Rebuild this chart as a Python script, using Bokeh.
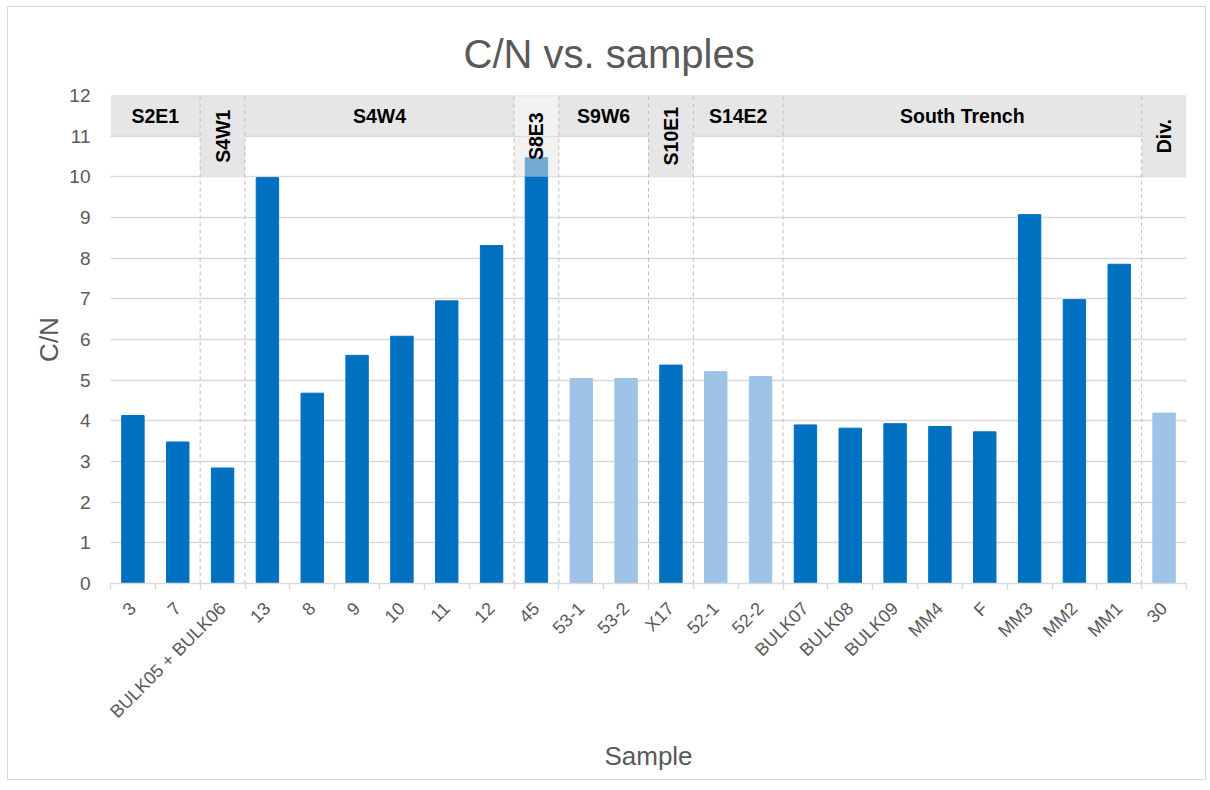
import numpy as np
from bokeh.plotting import figure
from bokeh.models import (Range1d, LinearAxis, FixedTicker, ColumnDataSource, Title)
from bokeh.core.properties import value
from bokeh.embed import file_html
from bokeh.resources import INLINE

# ---------------- data ----------------
samples = ["3", "7", "BULK05 + BULK06", "13", "8", "9", "10", "11", "12", "45",
           "53-1", "53-2", "X17", "52-1", "52-2", "BULK07", "BULK08", "BULK09",
           "MM4", "F", "MM3", "MM2", "MM1", "30"]
cn_values = [4.13, 3.48, 2.84, 9.98, 4.68, 5.61, 6.08, 6.95, 8.31, 10.47,
             5.04, 5.04, 5.37, 5.21, 5.09, 3.90, 3.82, 3.93, 3.86, 3.73,
             9.07, 6.98, 7.85, 4.19]
light_samples = ["53-1", "53-2", "52-1", "52-2", "30"]
group_names = ["S2E1", "S4W1", "S4W4", "S8E3", "S9W6", "S10E1", "S14E2", "South Trench", "Div."]
group_sizes = [2, 1, 6, 1, 2, 1, 2, 8, 1]
y_ticks = list(range(0, 13))

DARK = "#0070c0"
LIGHT = "#9dc3e6"
TXT = "#595959"
GRID = "#d9d9d9"
BAND = "#e6e6e6"
FONT = "Liberation Sans"

n = len(samples)
xpos = [i + 0.5 for i in range(n)]
colors = [LIGHT if s in light_samples else DARK for s in samples]

p = figure(width=1199, height=774, x_range=Range1d(0, n), y_range=Range1d(0, 12),
           output_backend="svg", toolbar_location=None, x_axis_location=None,
           min_border_left=102, min_border_right=21, min_border_top=88, min_border_bottom=198,
           styles={"border": "1px solid #d9d9d9", "margin-left": "7px", "margin-top": "6px"})
p.outline_line_color = None
p.background_fill_color = "white"
p.border_fill_color = "white"

# title
p.title = Title(text="C/N vs. samples", align="left", offset=353, standoff=40,
                text_font=FONT, text_font_size="40px", text_font_style="normal",
                text_color=TXT)

# grid
p.xgrid.visible = False
p.ygrid.ticker = FixedTicker(ticks=y_ticks)
p.ygrid.grid_line_color = GRID
p.ygrid.grid_line_width = 1.5

# y axis
p.yaxis.ticker = FixedTicker(ticks=y_ticks)
p.yaxis.axis_line_color = None
p.yaxis.major_tick_line_color = None
p.yaxis.major_tick_out = 0
p.yaxis.major_tick_in = 0
p.yaxis.minor_tick_line_color = None
p.yaxis.major_label_text_font = FONT
p.yaxis.major_label_text_font_size = "19px"
p.yaxis.major_label_text_color = TXT
p.yaxis.major_label_standoff = 20
p.yaxis.axis_label = "C/N"
p.yaxis.axis_label_text_font = FONT
p.yaxis.axis_label_text_font_size = "26px"
p.yaxis.axis_label_text_font_style = "normal"
p.yaxis.axis_label_text_color = TXT
p.yaxis.axis_label_standoff = 2

# x axis: labels at category centres, ticks (minor) at category boundaries
xaxis = LinearAxis(ticker=FixedTicker(ticks=xpos, minor_ticks=list(range(n + 1))),
                   major_label_overrides={x: s for x, s in zip(xpos, samples)},
                   axis_line_color=GRID, axis_line_width=1.5,
                   major_tick_line_color=None, major_tick_out=6, major_tick_in=0,
                   minor_tick_line_color=GRID, minor_tick_line_width=1.5,
                   minor_tick_out=6, minor_tick_in=0,
                   major_label_orientation=np.pi / 4,
                   major_label_text_font=FONT, major_label_text_font_size="18px",
                   major_label_text_color=TXT, major_label_standoff=16,
                   axis_label="Sample", axis_label_text_font=FONT,
                   axis_label_text_font_size="26px", axis_label_text_font_style="normal",
                   axis_label_text_color=TXT, axis_label_standoff=9)
p.add_layout(xaxis, "below")

# header bands
bounds = np.concatenate([[0], np.cumsum(group_sizes)])
starts = bounds[:-1]
ends = bounds[1:]
wide = [s > 1 for s in group_sizes]

wl, wr, wn = [], [], []
nl, nr, nn = [], [], []
for g, a, b, w in zip(group_names, starts, ends, wide):
    if w:
        wl.append(a); wr.append(b); wn.append(g)
    else:
        nl.append(a); nr.append(b); nn.append(g)

opaque_narrow = [i for i, g in enumerate(nn) if g != "S8E3"]
p.quad(left=wl, right=wr, bottom=11, top=12, fill_color=BAND, line_color=None)
p.quad(left=[nl[i] for i in opaque_narrow], right=[nr[i] for i in opaque_narrow],
       bottom=10, top=12, fill_color=BAND, line_color=None)

# bars
src = ColumnDataSource(dict(x=xpos, top=cn_values, color=colors))
p.vbar(x="x", top="top", width=0.5, bottom=0, fill_color="color", line_color="color", source=src)

# translucent S8E3 box drawn above its bar
tr = [i for i, g in enumerate(nn) if g == "S8E3"]
p.quad(left=[nl[i] for i in tr], right=[nr[i] for i in tr], bottom=10, top=12,
       fill_color=BAND, fill_alpha=0.5, line_color=None)

# band border lines
p.segment(x0=0, x1=n, y0=12, y1=12, line_color=GRID, line_width=1.5)
p.segment(x0=wl, x1=wr, y0=11, y1=11, line_color=GRID, line_width=1.5)

# dashed separators
seps = list(bounds[1:-1])
p.segment(x0=seps, x1=seps, y0=0, y1=12, line_color="#bfbfbf", line_width=1, line_dash="4 3")

# header labels
p.text(x=[(a + b) / 2 for a, b in zip(wl, wr)], y=11.5, text=wn,
       text_font=value(FONT), text_font_size="19.5px", text_font_style="bold",
       text_color="black", text_align="center", text_baseline="middle")
p.text(x=[(a + b) / 2 for a, b in zip(nl, nr)], y=11, text=nn,
       angle=np.pi / 2, text_font=value(FONT), text_font_size="19.5px", text_font_style="bold",
       text_color="black", text_align="center", text_baseline="middle")

open("out.html", "w").write(file_html(p, INLINE))
